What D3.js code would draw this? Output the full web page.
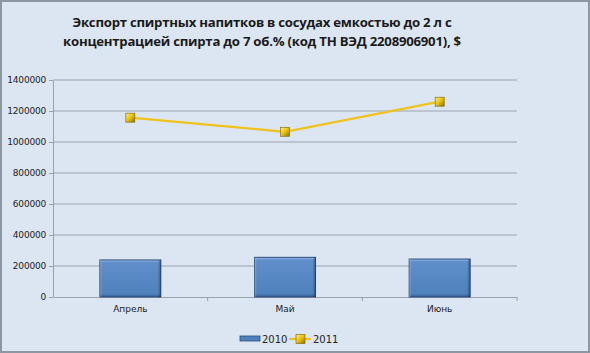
<!DOCTYPE html>
<html>
<head>
<meta charset="utf-8">
<script src="https://cdn.jsdelivr.net/npm/d3@7"></script>
<style>
  html, body { margin:0; padding:0; background:#dce6f2; }
  svg { display:block; }
</style>
</head>
<body>
<div id="chart"></div>
<script>
(function(){

const width = 590;
const height = 353;
const margin = {top:80, right:73, bottom:56, left:53};

// data
const months = ["Апрель", "Май", "Июнь"];
const values2010 = [239000, 256000, 245000];
const values2011 = [1157000, 1066000, 1260000];
const yTicks = [0, 200000, 400000, 600000, 800000, 1000000, 1200000, 1400000];
const titleLines = [
  "Экспорт спиртных напитков в сосудах емкостью до 2 л с",
  "концентрацией спирта до 7 об.% (код ТН ВЭД 2208906901), $"
];
const seriesNames = ["2010", "2011"];

const svg = d3.select("#chart")
  .append("svg")
  .attr("width", width)
  .attr("height", height);

const defs = svg.append("defs");

// bar bevel gradients
const barGrad = defs.append("linearGradient")
  .attr("id", "barGrad")
  .attr("x1", 0).attr("y1", 0).attr("x2", 0).attr("y2", 1);
barGrad.append("stop").attr("offset", "0%").attr("stop-color", "#9dbde6");
barGrad.append("stop").attr("offset", "7%").attr("stop-color", "#5f8ecb");
barGrad.append("stop").attr("offset", "92%").attr("stop-color", "#4f81bd");
barGrad.append("stop").attr("offset", "100%").attr("stop-color", "#34598a");

const sideGrad = defs.append("linearGradient")
  .attr("id", "sideGrad")
  .attr("x1", 0).attr("y1", 0).attr("x2", 1).attr("y2", 0);
sideGrad.append("stop").attr("offset", "0%").attr("stop-color", "#ffffff").attr("stop-opacity", 0.25);
sideGrad.append("stop").attr("offset", "4%").attr("stop-color", "#ffffff").attr("stop-opacity", 0);
sideGrad.append("stop").attr("offset", "95%").attr("stop-color", "#000000").attr("stop-opacity", 0);
sideGrad.append("stop").attr("offset", "100%").attr("stop-color", "#000000").attr("stop-opacity", 0.35);

const markGrad = defs.append("linearGradient")
  .attr("id", "markGrad")
  .attr("x1", 0).attr("y1", 0).attr("x2", 1).attr("y2", 1);
markGrad.append("stop").attr("offset", "0%").attr("stop-color", "#fff07a");
markGrad.append("stop").attr("offset", "50%").attr("stop-color", "#e9c20c");
markGrad.append("stop").attr("offset", "100%").attr("stop-color", "#8a6d00");

// frame
svg.append("rect")
  .attr("x", 1).attr("y", 1)
  .attr("width", width - 2).attr("height", height - 2)
  .attr("fill", "#dce6f2")
  .attr("stroke", "#8d97a3")
  .attr("stroke-width", 2);

// title
svg.append("text")
  .attr("text-anchor", "middle")
  .style("font-family", "'Open Sans', sans-serif")
  .style("font-weight", "bold")
  .style("font-size", "13.2px")
  .style("letter-spacing", "-0.25px")
  .attr("fill", "#1a1a1a")
  .selectAll("tspan")
  .data(titleLines)
  .enter()
  .append("tspan")
  .attr("x", 262)
  .attr("y", (d,i) => 27 + i*18.5)
  .text(d => d);

const x = d3.scaleBand()
  .domain(months)
  .range([margin.left, width - margin.right]);

const y = d3.scaleLinear()
  .domain([0, 1400000])
  .range([height - margin.bottom, margin.top]);

// gridlines
svg.append("g")
  .selectAll("line")
  .data(yTicks.slice(1))
  .enter()
  .append("line")
  .attr("x1", margin.left)
  .attr("x2", width - margin.right)
  .attr("y1", d => y(d))
  .attr("y2", d => y(d))
  .attr("stroke", "#9aa3ad")
  .attr("stroke-width", 1);

// y axis
const yAxis = svg.append("g")
  .attr("transform", `translate(${margin.left},0)`)
  .call(d3.axisLeft(y).tickValues(yTicks).tickFormat(d3.format("d")).tickSize(4).tickSizeOuter(0));

// x axis
const xAxis = svg.append("g")
  .attr("transform", `translate(0,${height - margin.bottom})`)
  .call(d3.axisBottom(x).tickSize(0).tickPadding(9));

// x tick marks between categories
svg.append("g")
  .selectAll("line")
  .data(months)
  .enter()
  .append("line")
  .attr("x1", (d,i) => margin.left + x.step()*(i+1))
  .attr("x2", (d,i) => margin.left + x.step()*(i+1))
  .attr("y1", height - margin.bottom)
  .attr("y2", height - margin.bottom + 4)
  .attr("stroke", "#9aa3ad");

[yAxis, xAxis].forEach(a => {
  a.selectAll("path.domain").attr("stroke", "#9aa3ad");
  a.selectAll(".tick line").attr("stroke", "#9aa3ad");
  a.selectAll("text")
    .style("font-family", "'DejaVu Sans', sans-serif")
    .style("font-size", "9px")
    .attr("fill", "#222");
});
yAxis.selectAll("text").style("letter-spacing", "-0.2px");

// bars
const barW = 61;
const bars = svg.selectAll(".bar")
  .data(months)
  .enter()
  .append("g")
  .attr("class", "bar");

bars.append("rect")
  .attr("x", d => x(d) + x.bandwidth()/2 - barW/2)
  .attr("y", (d,i) => y(values2010[i]))
  .attr("width", barW)
  .attr("height", (d,i) => y(0) - y(values2010[i]))
  .attr("fill", "url(#barGrad)")
  .attr("stroke", "#2c4e7c")
  .attr("stroke-width", 1);

bars.append("rect")
  .attr("x", d => x(d) + x.bandwidth()/2 - barW/2)
  .attr("y", (d,i) => y(values2010[i]))
  .attr("width", barW)
  .attr("height", (d,i) => y(0) - y(values2010[i]))
  .attr("fill", "url(#sideGrad)");

// line 2011
const line = d3.line()
  .x((d,i) => x(months[i]) + x.bandwidth()/2)
  .y(d => y(d));

svg.append("path")
  .datum(values2011)
  .attr("d", line)
  .attr("fill", "none")
  .attr("stroke", "#f0c31c")
  .attr("stroke-width", 2.2);

svg.selectAll(".mark")
  .data(values2011)
  .enter()
  .append("rect")
  .attr("class", "mark")
  .attr("x", (d,i) => x(months[i]) + x.bandwidth()/2 - 4.5)
  .attr("y", d => y(d) - 4.5)
  .attr("width", 9)
  .attr("height", 9)
  .attr("fill", "url(#markGrad)")
  .attr("stroke", "#7a6000")
  .attr("stroke-width", 0.6);

// legend
const legend = svg.append("g")
  .style("font-family", "'DejaVu Sans', sans-serif")
  .style("font-size", "10px");

legend.append("rect")
  .attr("x", 240).attr("y", 336)
  .attr("width", 20).attr("height", 5)
  .attr("fill", "#4f81bd")
  .attr("stroke", "#2c4e7c")
  .attr("stroke-width", 0.8);
legend.append("text")
  .attr("x", 262).attr("y", 343)
  .attr("fill", "#222")
  .text(seriesNames[0]);

legend.append("line")
  .attr("x1", 289).attr("x2", 311)
  .attr("y1", 339).attr("y2", 339)
  .attr("stroke", "#f0c31c")
  .attr("stroke-width", 2.2);
legend.append("rect")
  .attr("x", 296).attr("y", 334.5)
  .attr("width", 9).attr("height", 9)
  .attr("fill", "url(#markGrad)")
  .attr("stroke", "#7a6000")
  .attr("stroke-width", 0.6);
legend.append("text")
  .attr("x", 313).attr("y", 343)
  .attr("fill", "#222")
  .text(seriesNames[1]);

})();
</script>
</body>
</html>
